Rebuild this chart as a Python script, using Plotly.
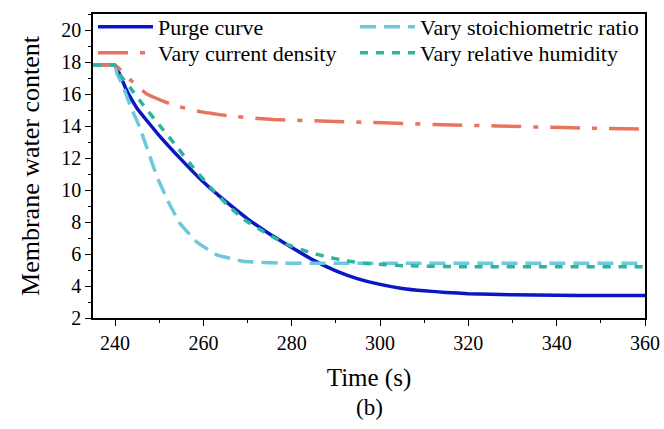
import plotly.graph_objects as go

# Data
purge_t = [235, 240, 242.5, 245, 250, 255, 260, 265, 270, 275, 280, 285, 290, 295,
           300, 305, 310, 315, 320, 330, 340, 350, 360]
purge_v = [17.8, 17.8, 16.3, 15.1, 13.4, 11.9, 10.5, 9.3, 8.2, 7.25, 6.4, 5.6, 4.95, 4.45,
           4.1, 3.85, 3.7, 3.6, 3.52, 3.45, 3.42, 3.4, 3.4]

stoich_t = [235, 240, 240.4, 241.9, 243.4, 245.6, 247.5, 249.4, 252, 254.7, 258.5, 263,
            269, 278, 290, 310, 360]
stoich_v = [17.8, 17.8, 17.3, 16.4, 15.3, 13.9, 12.4, 10.9, 9.3, 7.9, 6.75, 5.95,
            5.55, 5.42, 5.42, 5.42, 5.42]

current_t = [235, 240, 243.4, 247.2, 253.2, 259.2, 266.8, 275.8, 288, 300.7, 312, 326.4, 341.5, 360]
current_v = [17.8, 17.8, 16.9, 16.0, 15.3, 14.9, 14.6, 14.4, 14.3, 14.2, 14.1, 14.0, 13.9, 13.8]

humid_t = [235, 240, 241.1, 243.4, 246.4, 250.2, 254, 257.7, 261.5, 265.3, 269, 273.6,
           278.9, 284.1, 287.9, 291.7, 297, 305.3, 320.4, 340, 360]
humid_v = [17.8, 17.8, 17.2, 16.4, 15.3, 14.0, 12.7, 11.4, 10.2, 9.1, 8.2, 7.4,
           6.6, 6.1, 5.83, 5.6, 5.4, 5.27, 5.2, 5.2, 5.2]

FONT = "Times New Roman, Liberation Serif, serif"
SMOOTH = 0.3

fig = go.Figure()
fig.add_trace(go.Scatter(x=purge_t, y=purge_v, mode="lines", name="Purge curve", legend="legend",
                         line=dict(color="#0A17C6", width=3.5, shape="spline", smoothing=SMOOTH)))
fig.add_trace(go.Scatter(x=stoich_t, y=stoich_v, mode="lines", name="Vary stoichiometric ratio", legend="legend2",
                         line=dict(color="#6CC9DD", width=3.5, dash="16px,8px", shape="spline", smoothing=SMOOTH)))
fig.add_trace(go.Scatter(x=current_t, y=current_v, mode="lines", name="Vary current density", legend="legend3",
                         line=dict(color="#E8735F", width=3.5, dash="30px,12px,5px,12px", shape="spline", smoothing=SMOOTH)))
fig.add_trace(go.Scatter(x=humid_t, y=humid_v, mode="lines", name="Vary relative humidity", legend="legend4",
                         line=dict(color="#2EB3A1", width=3.5, dash="8px,8px", shape="spline", smoothing=SMOOTH)))

leg_common = dict(orientation="h", xanchor="left", yanchor="middle", itemwidth=55,
                  font=dict(family=FONT, size=22), bgcolor="rgba(0,0,0,0)")
COL1, COL2 = 0.0, 0.4746
ROW1, ROW2 = 0.957, 0.872

fig.update_layout(
    width=664, height=429,
    margin=dict(l=93, r=19, t=14, b=111, autoexpand=False),
    paper_bgcolor="white", plot_bgcolor="white",
    font=dict(family=FONT, color="black", size=18),
    legend=dict(x=COL1, y=ROW1, **leg_common),
    legend2=dict(x=COL2, y=ROW1, **leg_common),
    legend3=dict(x=COL1, y=ROW2, **leg_common),
    legend4=dict(x=COL2, y=ROW2, **leg_common),
    showlegend=True,
)

fig.update_xaxes(range=[235, 360], tick0=240, dtick=20, ticks="outside", ticklen=6,
                 tickwidth=1.2, tickcolor="black",
                 minor=dict(dtick=10, tick0=240, ticks="outside", ticklen=3, tickcolor="black"),
                 showline=True, linecolor="black", linewidth=1.5, mirror=True,
                 showgrid=False, zeroline=False,
                 tickfont=dict(family=FONT, size=20),
                 title=dict(text="Time (s)", font=dict(family=FONT, size=25), standoff=16))
fig.update_yaxes(range=[2, 21], tick0=2, dtick=2, ticks="outside", ticklen=6,
                 tickwidth=1.2, tickcolor="black",
                 minor=dict(dtick=1, ticks="outside", ticklen=3, tickcolor="black"),
                 showline=True, linecolor="black", linewidth=1.5, mirror=True,
                 showgrid=False, zeroline=False,
                 tickfont=dict(family=FONT, size=20),
                 title=dict(text="Membrane water content", font=dict(family=FONT, size=26), standoff=14))

fig.add_annotation(text="(b)", xref="paper", yref="paper", x=0.5, y=-0.2467,
                   xanchor="center", yanchor="top", showarrow=False,
                   font=dict(family=FONT, size=23))

fig.write_html("out.html")
